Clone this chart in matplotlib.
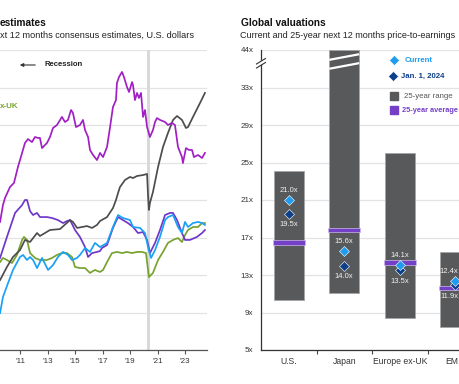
import matplotlib
matplotlib.use("Agg")
import matplotlib.pyplot as plt
from matplotlib.lines import Line2D
from matplotlib.patches import Polygon, FancyArrowPatch
from matplotlib.transforms import ScaledTranslation

plt.rcParams['font.family'] = ['Liberation Sans', 'DejaVu Sans']

# ---------------- Left panel data (index level) ----------------
magenta_years = [2009.55, 2009.76, 2009.91, 2010.27, 2010.56, 2010.85, 2011.15, 2011.36, 2011.58, 2011.87,
                 2012.09, 2012.31, 2012.45, 2012.60, 2012.96, 2013.18, 2013.40, 2013.69, 2014.05, 2014.27,
                 2014.49, 2014.71, 2014.85, 2015.07, 2015.36, 2015.58, 2015.73, 2015.95, 2016.09, 2016.31,
                 2016.60, 2016.82, 2017.04, 2017.33, 2017.55, 2017.76, 2017.98, 2018.05, 2018.20, 2018.42,
                 2018.56, 2018.78, 2018.93, 2019.15, 2019.22, 2019.36, 2019.51, 2019.65, 2019.80, 2019.95,
                 2020.09, 2020.24, 2020.45, 2020.67, 2020.82, 2020.96, 2021.18, 2021.55, 2021.76, 2022.05,
                 2022.27, 2022.49, 2022.78, 2022.85, 2023.07, 2023.29, 2023.51, 2023.65, 2023.95, 2024.24,
                 2024.45]
magenta_values = [108.3, 117.3, 121.1, 126.9, 129.1, 137.6, 145.1, 150.4, 152.5, 150.9,
                  153.6, 153.1, 153.1, 147.7, 150.4, 153.6, 158.4, 160.0, 164.3, 161.6,
                  162.7, 168.0, 166.4, 158.9, 160.0, 162.7, 157.3, 153.6, 146.7, 144.0,
                  141.3, 145.1, 142.9, 148.3, 158.9, 169.6, 173.3, 182.4, 185.6, 188.3,
                  185.6, 180.3, 177.6, 182.9, 181.3, 173.3, 177.1, 174.4, 177.1, 164.3,
                  168.0, 158.9, 153.6, 157.3, 161.6, 163.7, 162.7, 161.6, 160.0, 161.1,
                  160.0, 148.3, 142.9, 139.7, 147.7, 146.7, 146.7, 142.9, 144.0, 142.4,
                  145.1]

gray_years = [2009.55, 2010.05, 2010.49, 2011.00, 2011.36, 2011.73, 2012.24, 2012.45, 2013.18, 2013.91,
              2014.64, 2014.85, 2015.15, 2015.87, 2016.24, 2016.60, 2016.82, 2017.33, 2017.76, 2017.98,
              2018.13, 2018.27, 2018.64, 2019.00, 2019.22, 2019.51, 2019.95, 2020.24, 2020.31, 2020.38,
              2020.45, 2020.67, 2021.04, 2021.40, 2021.76, 2022.13, 2022.42, 2022.78, 2023.07, 2023.22,
              2023.58, 2024.09, 2024.45]
gray_values = [77.3, 84.3, 89.6, 93.3, 98.7, 97.6, 102.4, 100.8, 104.0, 104.5,
               109.3, 108.3, 105.1, 106.1, 105.1, 106.7, 108.8, 110.9, 115.7, 120.0,
               123.7, 126.9, 130.7, 132.3, 131.7, 132.8, 133.3, 133.9, 122.7, 114.7,
               118.4, 124.3, 137.6, 148.3, 155.7, 162.7, 164.8, 162.7, 158.4, 158.9,
               164.3, 171.7, 177.1]

violet_years = [2009.55, 2010.05, 2010.64, 2011.15, 2011.36, 2011.51, 2011.73, 2011.95, 2012.24, 2012.45,
                2012.96, 2013.33, 2013.76, 2014.13, 2014.42, 2014.64, 2015.00, 2015.36, 2015.73, 2015.95,
                2016.24, 2016.60, 2016.82, 2016.96, 2017.33, 2017.76, 2018.13, 2018.49, 2018.85, 2019.22,
                2019.58, 2019.95, 2020.24, 2020.45, 2020.82, 2021.18, 2021.55, 2021.91, 2022.13, 2022.42,
                2022.78, 2023.00, 2023.36, 2023.87, 2024.24, 2024.45]
violet_values = [89.1, 100.3, 113.1, 117.3, 120.0, 120.0, 114.1, 112.0, 113.1, 110.9,
                 110.9, 110.4, 109.3, 107.7, 108.8, 109.3, 104.0, 100.3, 94.9, 89.6,
                 91.7, 92.3, 92.8, 94.4, 96.0, 105.1, 110.9, 109.3, 107.7, 105.6,
                 102.4, 102.9, 98.7, 91.7, 97.1, 104.0, 112.0, 113.1, 113.1, 109.3,
                 102.4, 98.7, 98.7, 100.3, 102.4, 104.0]

blue_years = [2009.55, 2009.76, 2010.13, 2010.49, 2011.00, 2011.22, 2011.51, 2011.73, 2011.95, 2012.24,
              2012.60, 2013.04, 2013.40, 2013.76, 2014.13, 2014.49, 2014.78, 2015.15, 2015.36, 2015.73,
              2016.09, 2016.45, 2016.82, 2017.33, 2017.76, 2018.13, 2018.49, 2019.00, 2019.22, 2019.73,
              2020.09, 2020.31, 2020.53, 2020.82, 2021.18, 2021.55, 2021.76, 2022.13, 2022.49, 2022.78,
              2023.00, 2023.22, 2023.58, 2023.95, 2024.24, 2024.45]
blue_values = [59.7, 68.3, 75.7, 82.7, 89.6, 90.7, 88.0, 89.6, 88.0, 83.7,
               89.1, 82.7, 85.3, 89.6, 92.3, 90.7, 88.0, 89.1, 90.7, 94.4,
               92.3, 97.1, 94.9, 97.1, 105.6, 112.0, 110.4, 109.3, 105.6, 105.1,
               102.4, 94.9, 89.1, 93.3, 100.3, 109.3, 110.9, 112.0, 105.6, 102.4,
               108.3, 105.6, 107.7, 108.3, 107.7, 106.7]

green_years = [2009.55, 2009.76, 2010.05, 2010.42, 2010.78, 2011.15, 2011.29, 2011.51, 2011.73, 2012.09,
               2012.45, 2012.96, 2013.33, 2013.69, 2014.05, 2014.42, 2014.78, 2015.00, 2015.36, 2015.73,
               2016.09, 2016.45, 2016.82, 2017.04, 2017.33, 2017.69, 2018.05, 2018.42, 2018.78, 2019.15,
               2019.51, 2019.87, 2020.16, 2020.31, 2020.38, 2020.67, 2021.04, 2021.40, 2021.76, 2022.13,
               2022.49, 2022.78, 2023.00, 2023.22, 2023.58, 2023.95, 2024.24, 2024.45]
green_values = [86.9, 89.1, 88.0, 86.4, 90.7, 98.7, 100.3, 98.7, 91.7, 89.1,
                88.0, 88.0, 89.1, 90.7, 91.7, 91.7, 89.6, 84.3, 83.7, 83.7,
                81.1, 82.7, 81.6, 82.7, 86.9, 91.7, 92.3, 91.7, 92.3, 91.7,
                92.3, 92.3, 91.7, 82.7, 78.9, 81.1, 88.0, 92.3, 97.1, 98.7,
                99.7, 97.6, 101.3, 104.0, 105.6, 105.6, 107.7, 107.7]

left_xticks = [2011, 2013, 2015, 2017, 2019, 2021, 2023]
left_xticklabels = ["'11", "'13", "'15", "'17", "'19", "'21", "'23"]
left_yticks = [40, 60, 80, 100, 120, 140, 160, 180, 200]
recession_start, recession_end = 2020.2, 2020.45

# ---------------- Right panel data ----------------
categories = ["U.S.", "Japan", "Europe ex-UK", "EM"]
range_low = [10.3, 11.1, 8.4, 7.5]
range_high = [24.1, 44.0, 26.0, 15.5]
avg_25yr = [16.5, 17.8, 14.3, 11.6]
current_pe = [21.0, 15.6, 14.1, 12.4]
jan2024_pe = [19.5, 14.0, 13.5, 11.9]
pe_ticks = [5, 9, 13, 17, 21, 25, 29, 33, 44]
pe_ticklabels = ["5x", "9x", "13x", "17x", "21x", "25x", "29x", "33x", "44x"]

# broken axis mapping: values above 33 compressed so 44 sits one grid step above 33
def pe_disp(v):
    return v if v <= 33 else 33 + (v - 33) * 4.0 / 11.0

# ---------------- Figure ----------------
W, H = 460, 384
fig = plt.figure(figsize=(W / 100, H / 100), dpi=100)

def fx(x):
    return x / W

def fy(y):
    return 1 - y / H

# ---- Left panel ----
axL = fig.add_axes([fx(0), fy(350), fx(207), 300 / H])
axL.set_xlim(2009.545, 2024.6)
axL.set_ylim(40, 200)
axL.set_yticks(left_yticks)
axL.grid(axis='y', color='#e3e3e3', lw=0.9)
axL.set_axisbelow(True)
axL.tick_params(axis='y', left=False, labelleft=False)
axL.set_xticks(left_xticks)
axL.set_xticklabels(left_xticklabels)
axL.tick_params(axis='x', length=3, width=0.8, color='#555555', labelsize=5.8,
                labelcolor='#333333', pad=2.5)
for s in ['top', 'right', 'left']:
    axL.spines[s].set_visible(False)
axL.spines['bottom'].set_color('#555555')
axL.spines['bottom'].set_linewidth(0.9)
axL.axvspan(recession_start, recession_end, color='#d9d9d9', lw=0, zorder=1)

lw = 1.25
axL.plot(green_years, green_values, color='#78a22f', lw=lw, zorder=3)
axL.plot(violet_years, violet_values, color='#6f37c9', lw=lw, zorder=3)
axL.plot(blue_years, blue_values, color='#1aa0f5', lw=lw, zorder=3)
axL.plot(gray_years, gray_values, color='#4d4d4d', lw=lw, zorder=3)
axL.plot(magenta_years, magenta_values, color='#a21fc4', lw=lw, zorder=3)

fig.text(fx(0), fy(23.5), "estimates", fontsize=7.3, fontweight='bold', color='#111111',
         ha='left', va='center')
fig.text(fx(0), fy(35.5), "xt 12 months consensus estimates, U.S. dollars", fontsize=6.6,
         color='#222222', ha='left', va='center')
fig.text(fx(45), fy(65), "Recession", fontsize=5.6, fontweight='bold', color='#222222',
         ha='left', va='center')
fig.add_artist(FancyArrowPatch(
    (fx(38), fy(65)), (fx(17), fy(65)), transform=fig.transFigure,
    arrowstyle='-|>', mutation_scale=5, color='#333333', lw=0.8))
fig.text(fx(0), fy(106), "x-UK", fontsize=5.8, fontweight='bold', color='#78a22f',
         ha='left', va='center')

# ---- Right panel ----
axR = fig.add_axes([fx(261), fy(350), (483 - 261) / W, 300 / H])
xs = list(range(len(categories)))
axR.set_xlim(-0.5, len(categories) - 0.5)
axR.set_ylim(5, 37)
axR.set_yticks([pe_disp(v) for v in pe_ticks])
axR.set_yticklabels(pe_ticklabels)
axR.grid(axis='y', color='#e3e3e3', lw=0.9)
axR.set_axisbelow(True)
axR.tick_params(axis='y', length=0, labelsize=5.8, labelcolor='#333333', pad=5.5)
axR.set_xticks(xs)
axR.set_xticklabels(categories)
axR.set_xticks([i + 0.5 for i in xs[:-1]], minor=True)
axR.tick_params(axis='x', which='major', length=0, labelsize=6.2, labelcolor='#333333', pad=5)
axR.tick_params(axis='x', which='minor', length=3, width=0.8, color='#444444')
for s in ['top', 'right']:
    axR.spines[s].set_visible(False)
for s in ['left', 'bottom']:
    axR.spines[s].set_color('#333333')
    axR.spines[s].set_linewidth(0.9)

lows = range_low
highs = [pe_disp(v) for v in range_high]
axR.bar(xs, [h - l for h, l in zip(highs, lows)], bottom=lows, width=0.54,
        color='#58595b', edgecolor='#a6a6a6', lw=0.6, zorder=2)
axR.bar(xs, [0.5] * len(xs), bottom=[a - 0.25 for a in avg_25yr], width=0.58,
        color='#7440c8', edgecolor='#cbb9ec', lw=0.5, zorder=3)
axR.plot(xs, current_pe, 'D', ls='none', ms=5.2, color='#1f9cf0', mec='white', mew=0.4, zorder=5)
axR.plot(xs, jan2024_pe, 'D', ls='none', ms=5.2, color='#0e3f8a', mec='white', mew=0.4, zorder=4)
value_labels = []
for i in xs:
    value_labels.append(axR.annotate(f"{current_pe[i]:.1f}x", (i, current_pe[i]), xytext=(0, 6.8),
                                     textcoords='offset points', ha='center', va='center',
                                     fontsize=5.5, color='#f2f2f2', zorder=6))
    value_labels.append(axR.annotate(f"{jan2024_pe[i]:.1f}x", (i, jan2024_pe[i]), xytext=(0, -7.8),
                                     textcoords='offset points', ha='center', va='center',
                                     fontsize=5.5, color='#f2f2f2', zorder=6))

# Japan bar break (white slashes)
jx = xs[1]
for y0 in (35.0, 35.95):
    axR.plot([jx - 0.27, jx + 0.27], [y0, y0 + 0.6], color='white', lw=1.6,
             solid_capstyle='butt', zorder=4)

# y-axis break marks
fig.add_artist(Polygon([(fx(258.5), fy(66.5)), (fx(263.5), fy(63.5)), (fx(263.5), fy(59.5)),
                        (fx(258.5), fy(62.5))], closed=True, transform=fig.transFigure,
                       facecolor='white', edgecolor='none', zorder=5))
for yb in (62.5, 66.5):
    fig.add_artist(Line2D([fx(256.5), fx(265.5)], [fy(yb + 1.5), fy(yb - 4.0)],
                          transform=fig.transFigure, color='#333333', lw=0.8, zorder=6))

fig.text(fx(241), fy(23.5), "Global valuations", fontsize=7.3, fontweight='bold',
         color='#111111', ha='left', va='center')
fig.text(fx(240), fy(35.5), "Current and 25-year next 12 months price-to-earnings",
         fontsize=6.5, color='#222222', ha='left', va='center')

# legend (manual)
lg = -3
fig.add_artist(Line2D([fx(397 + lg)], [fy(60)], marker='D', ms=5.2, color='#1f9cf0',
                      mec='white', mew=0.4, transform=fig.transFigure, zorder=6))
fig.text(fx(408 + lg), fy(60), "Current", fontsize=5.6, fontweight='bold', color='#1f9cf0',
         ha='left', va='center')
fig.add_artist(Line2D([fx(396 + lg)], [fy(76)], marker='D', ms=5.2, color='#0e3f8a',
                      mec='white', mew=0.4, transform=fig.transFigure, zorder=6))
fig.text(fx(404 + lg), fy(76), "Jan. 1, 2024", fontsize=5.6, fontweight='bold', color='#0e3f8a',
         ha='left', va='center')
fig.add_artist(Line2D([fx(397 + lg)], [fy(96)], marker='s', ms=5.6, color='#58595b',
                      mec='#58595b', transform=fig.transFigure, zorder=6))
fig.text(fx(407 + lg), fy(96), "25-year range", fontsize=5.6, color='#555555',
         ha='left', va='center')
fig.add_artist(Line2D([fx(397 + lg)], [fy(110)], marker='s', ms=5.6, color='#7440c8',
                      mec='#7440c8', transform=fig.transFigure, zorder=6))
avg_text = fig.text(fx(407 + lg), fy(110), "25-year average", fontsize=5.3, fontweight='bold',
                    color='#7440c8', ha='left', va='center')

# keep texts inside the right edge of the picture
fig.canvas.draw()
renderer = fig.canvas.get_renderer()
limit = W - 1.5
for t in value_labels:
    bb = t.get_window_extent(renderer)
    over = bb.x1 - limit
    if over > 0:
        t.xyann = (t.xyann[0] - over * 72 / 100, t.xyann[1])
for t in axR.get_xticklabels():
    bb = t.get_window_extent(renderer)
    over = bb.x1 - limit
    if over > 0:
        t.set_transform(t.get_transform() + ScaledTranslation(-over / 100, 0, fig.dpi_scale_trans))
bb = avg_text.get_window_extent(renderer)
if bb.x1 > limit:
    avg_text.set_x(avg_text.get_position()[0] - (bb.x1 - limit) / W)

fig.savefig("out.png", dpi=100)
